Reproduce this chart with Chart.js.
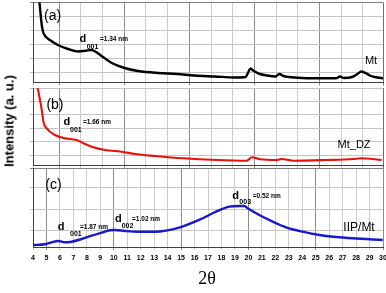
<!DOCTYPE html>
<html>
<head>
<meta charset="utf-8">
<script src="https://cdn.jsdelivr.net/npm/chart.js@4/dist/chart.umd.min.js"></script>
<style>
  body { margin: 0; background: #fff; }
  #wrap { position: relative; width: 386px; height: 293px; overflow: hidden; }
  canvas { position: absolute; left: 0; }
  #ytitle {
    position: absolute; left: 8.5px; top: 121px;
    transform: translate(-50%, -50%) rotate(-90deg);
    font: bold 13px "Liberation Sans", Arial, sans-serif;
    white-space: nowrap; color: #000;
  }
</style>
</head>
<body>
<div id="wrap">
  <canvas id="pa" width="386" height="86" style="top:0px"></canvas>
  <canvas id="pb" width="386" height="84" style="top:84px"></canvas>
  <canvas id="pc" width="386" height="127" style="top:166px"></canvas>
  <div id="ytitle">Intensity (a. u.)</div>
</div>
<script>
// (a) Mt
const mtTheta = [4.45, 4.55, 4.65, 4.75, 4.9, 5.25, 5.85, 6.6, 7.35, 7.9, 8.35, 8.65, 9.2, 9.85, 10.8, 11.8, 13.3, 14.7, 16.0, 17.5, 19.0, 19.8, 19.95, 20.15, 20.35, 20.85, 21.4, 22.0, 22.3, 22.6, 23.0, 24.0, 25.5, 26.5, 26.8, 27.1, 27.7, 28.1, 28.4, 28.7, 29.1, 29.6, 30.0];
const mtIntensity = [84.5, 70.5, 57.5, 50.5, 46.5, 42.5, 37.5, 33.5, 31, 31.8, 32.5, 30.8, 25.5, 19.5, 14.5, 11.5, 9.5, 8.5, 7, 6, 5, 5.5, 9, 14, 12, 8.5, 7, 6, 8.5, 6.5, 5.5, 4.5, 4.2, 4.2, 6, 4.5, 5.5, 8.5, 11, 9.5, 6.5, 5, 4.2];

// (b) Mt_DZ
const dzTheta = [4.3, 4.35, 4.52, 4.69, 4.77, 5.02, 5.63, 6.38, 7.25, 7.74, 8.36, 9.35, 10.59, 11.58, 13.06, 15.14, 17.65, 19.88, 20.25, 20.87, 22.1, 22.48, 23.3, 25.8, 27.8, 28.3, 29.9];
const dzIntensity = [80, 76.7, 65, 51.7, 43.3, 36.7, 30, 26.7, 25, 21.7, 18.3, 15, 13.3, 11, 9, 6.7, 5, 4.3, 7.7, 5.7, 5, 6, 4.3, 5, 6, 6.7, 5];

// (c) IIP/Mt
const iipTheta = [4.02, 4.89, 5.39, 5.88, 6.38, 6.88, 7.62, 8.36, 9.1, 9.72, 10.09, 10.84, 11.82, 13.06, 14.92, 16.38, 17.6, 18.58, 19.33, 19.7, 19.95, 20.81, 21.81, 22.8, 24.04, 25.27, 26.51, 27.75, 29.98];
const iipIntensity = [2, 2.7, 4.7, 6, 4.7, 5.3, 8, 11.3, 14.3, 16.7, 17, 16, 15.3, 15.3, 19.7, 27.3, 35.3, 40.3, 41, 41, 38.7, 32, 25.3, 19.7, 15.3, 12, 10, 8.7, 7];

const xTickValues = [4, 5, 6, 7, 8, 9, 10, 11, 12, 13, 14, 15, 16, 17, 18, 19, 20, 21, 22, 23, 24, 25, 26, 27, 28, 29, 30];

const FONT = '"Liberation Sans", Arial, sans-serif';
Chart.defaults.font.family = FONT;
Chart.defaults.color = '#000';

// text drawn at (2θ, intensity) positions
const textPlugin = {
  id: 'notes',
  afterDraw(chart, args, opts) {
    const { ctx, scales: { x, y } } = chart;
    ctx.save();
    (opts.items || []).forEach(t => {
      ctx.font = t.font;
      ctx.fillStyle = '#000';
      ctx.textAlign = t.align || 'left';
      ctx.textBaseline = 'middle';
      ctx.fillText(t.text, x.getPixelForValue(t.x), y.getPixelForValue(t.y));
    });
    ctx.restore();
  }
};

const big = '14px ' + FONT, dFont = 'bold 11px ' + FONT, subFont = 'bold 7px ' + FONT, eqFont = 'bold 6.5px ' + FONT;

function dLabel(x, y, sub, eq, x2, y2, x3) {
  return [
    { text: 'd', x: x, y: y, font: dFont },
    { text: sub, x: x2, y: y2, font: subFont },
    { text: eq, x: x3, y: y - 0.5, font: eqFont }
  ];
}

// vertical grid of the two upper panels
const upperGrid = [4, 5.954, 7.564, 9.174, 10.784, 12.394, 14.004, 15.614, 17.224, 18.834, 20.444, 22.054, 23.664, 25.274, 26.884, 28.494, 30];

function makePanel(id, opt) {
  const lower = opt.lower;
  new Chart(document.getElementById(id), {
    type: 'line',
    data: {
      datasets: [{
        data: opt.theta.map((v, i) => ({ x: v, y: opt.values[i] })),
        borderColor: opt.color,
        borderWidth: opt.width,
        pointRadius: 0,
        cubicInterpolationMode: 'monotone',
        fill: false
      }]
    },
    options: {
      responsive: false,
      animation: false,
      devicePixelRatio: 1,
      layout: { padding: { top: opt.padTop, left: 0, right: 3, bottom: 0 } },
      plugins: {
        legend: { display: false },
        tooltip: { enabled: false },
        notes: { items: opt.notes }
      },
      scales: {
        x: {
          type: 'linear', min: 4, max: 30,
          afterBuildTicks: s => {
            s.ticks = (lower ? xTickValues : upperGrid).map(v => ({ value: v }));
          },
          afterFit: s => { s.height = opt.axisH; s.paddingRight = 0; s.paddingLeft = 0; },
          ticks: {
            display: lower, padding: 4, maxRotation: 0, autoSkip: false,
            font: { size: 7, weight: 'bold' },
            callback: v => String(v)
          },
          grid: {
            tickLength: 3,
            color: c => {
              if (!c.tick) return '#cccccc';
              if (lower) return c.tick.value % 5 === 0 ? '#8c8c8c' : '#cccccc';
              if (c.index === upperGrid.length - 1) return '#707070';
              return (c.index - 1) % 3 === 0 ? '#8c8c8c' : '#cccccc';
            }
          },
          border: { color: '#404040', width: 1 }
        },
        y: {
          min: 0, max: opt.ymax,
          afterBuildTicks: s => { s.ticks = opt.ygrid.map(v => ({ value: v })); },
          afterFit: s => { s.width = 33; },
          ticks: { display: false },
          grid: {
            tickLength: 3,
            color: c => (c.tick && c.tick.value === opt.ymax && opt.topDark) ? '#808080' : '#c4c4c4'
          },
          border: { color: '#404040', width: 1 }
        }
      }
    },
    plugins: [textPlugin]
  });
}

makePanel('pa', {
  theta: mtTheta, values: mtIntensity, color: '#000000', width: 2.4,
  padTop: 2.5, axisH: 3.5, ymax: 80, ygrid: [10, 24, 38, 52, 66, 80], topDark: true,
  notes: [
    { text: '(a)', x: 5.45, y: 66.5, font: big, align: 'center' },
    ...dLabel(7.45, 44, '001', '=1.34 nm', 7.99, 35.5, 8.98),
    { text: 'Mt', x: 29.11, y: 21.5, font: '11px ' + FONT, align: 'center' }
  ]
});

makePanel('pb', {
  theta: dzTheta, values: dzIntensity, color: '#e8120c', width: 2.1,
  padTop: 4, axisH: 3, ymax: 77, ygrid: [10, 23.4, 36.8, 50.2, 63.6, 77], topDark: false,
  notes: [
    { text: '(b)', x: 5.63, y: 60, font: big, align: 'center' },
    ...dLabel(6.26, 43.5, '001', '=1.66 nm', 6.75, 35, 7.71),
    { text: 'Mt_DZ', x: 27.85, y: 20, font: '11px ' + FONT, align: 'center' }
  ]
});

makePanel('pc', {
  theta: iipTheta, values: iipIntensity, color: '#1818d0', width: 2.4,
  padTop: 2, axisH: 46, ymax: 79, ygrid: [16.5, 38, 59.5, 79], topDark: true, lower: true,
  notes: [
    { text: '(c)', x: 5.52, y: 62, font: big, align: 'center' },
    ...dLabel(5.84, 20.5, '001', '=1.87 nm', 6.75, 13.3, 7.49),
    ...dLabel(10.1, 28.3, '002', '=1.02 nm', 10.59, 20.7, 11.36),
    ...dLabel(18.8, 51.5, '003', '=0.52 nm', 19.33, 44.5, 20.32),
    { text: 'IIP/Mt', x: 28.22, y: 19.5, font: '12px ' + FONT, align: 'center' },
    { text: '2\u03B8', x: 16.93, y: -32, font: '18px "Liberation Serif", "Times New Roman", serif', align: 'center' }
  ]
});
</script>
</body>
</html>
